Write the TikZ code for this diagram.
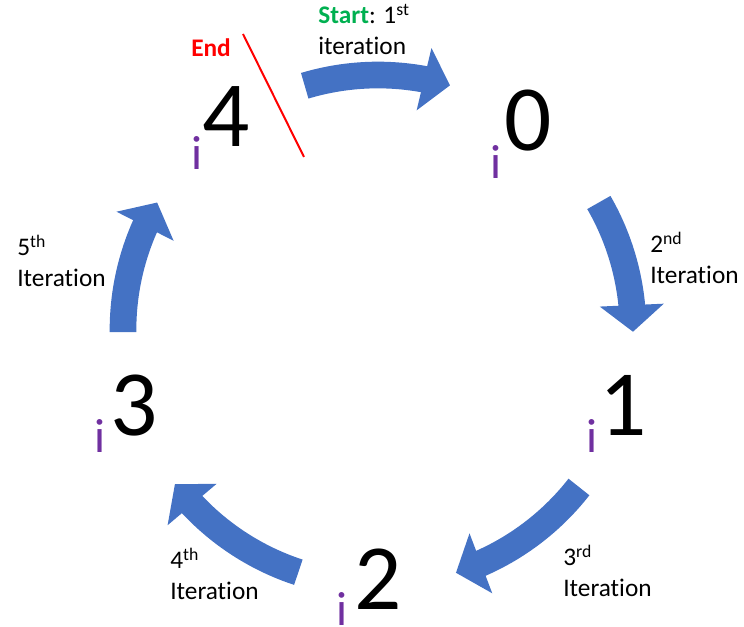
\documentclass[tikz,border=0pt]{standalone}
\usepackage{fontspec}
\setmainfont{Carlito}[Ligatures=NoCommon]
\usetikzlibrary{arrows.meta,bending}
\definecolor{arrowblue}{HTML}{4472C4}
\definecolor{idxpurple}{HTML}{7030A0}
\definecolor{startgreen}{HTML}{00B050}
\definecolor{endred}{HTML}{FF0000}
\begin{document}
\begin{tikzpicture}[x=0.75pt,y=-0.75pt,
  blockarrow/.style={draw=arrowblue, line width=20pt, -{Triangle[width=47pt,length=20pt,flex]}},
  digit/.style={font=\fontsize{70}{84}\selectfont, inner sep=0pt, anchor=base},
  idx/.style={font=\fontsize{36}{43}\selectfont, text=idxpurple, inner sep=0pt, anchor=base},
  lbl/.style={font=\fontsize{19}{23.3}\selectfont, inner sep=0pt, anchor=base west, align=left}]
\useasboundingbox (0,0) rectangle (744,627);
\coordinate (c) at (378,330);
% digits with index i
\node[digit] (d0) at (528,151) {0};
\node[idx] (i0) at (496,179) {i};
\node[digit] (d1) at (623,436) {1};
\node[idx] (i1) at (592.5,453) {i};
\node[digit] (d2) at (378,610) {2};
\node[idx] (i2) at (342.5,626) {i};
\node[digit] (d3) at (134,436) {3};
\node[idx] (i3) at (100,453) {i};
\node[digit] (d4) at (226,147) {4};
\node[idx] (i4) at (197.5,170) {i};
% circular block arrows
\draw[blockarrow] ([shift={(253.3:255)}]c) arc[start angle=253.3, end angle=286.4, radius=255];
\draw[blockarrow] ([shift={(330:255)}]c) arc[start angle=330, end angle=360.4, radius=255];
\draw[blockarrow] ([shift={(38:255)}]c) arc[start angle=38, end angle=72.2, radius=255];
\draw[blockarrow] ([shift={(108.2:255)}]c) arc[start angle=108.2, end angle=142.8, radius=255];
\draw[blockarrow] ([shift={(179.5:255)}]c) arc[start angle=179.5, end angle=210, radius=255];
% labels (anchor at baseline of last line)
\node[lbl] (l1) at (318,55) {\textcolor{startgreen}{\textbf{Start}}: 1\textsuperscript{st}\\iteration};
\node[lbl] (l2) at (650,284) {2\textsuperscript{nd}\\Iteration};
\node[lbl] (l3) at (563,597) {3\textsuperscript{rd}\\Iteration};
\node[lbl] (l4) at (170,600) {4\textsuperscript{th}\\Iteration};
\node[lbl] (l5) at (17,287) {5\textsuperscript{th}\\Iteration};
\node[lbl, text=endred] (endlbl) at (191,57) {\textbf{End}};
% red end line
\coordinate (r1) at (243,34);
\coordinate (r2) at (304,157);
\draw[endred, line width=1.5pt] (r1) -- (r2);
\end{tikzpicture}
\end{document}
